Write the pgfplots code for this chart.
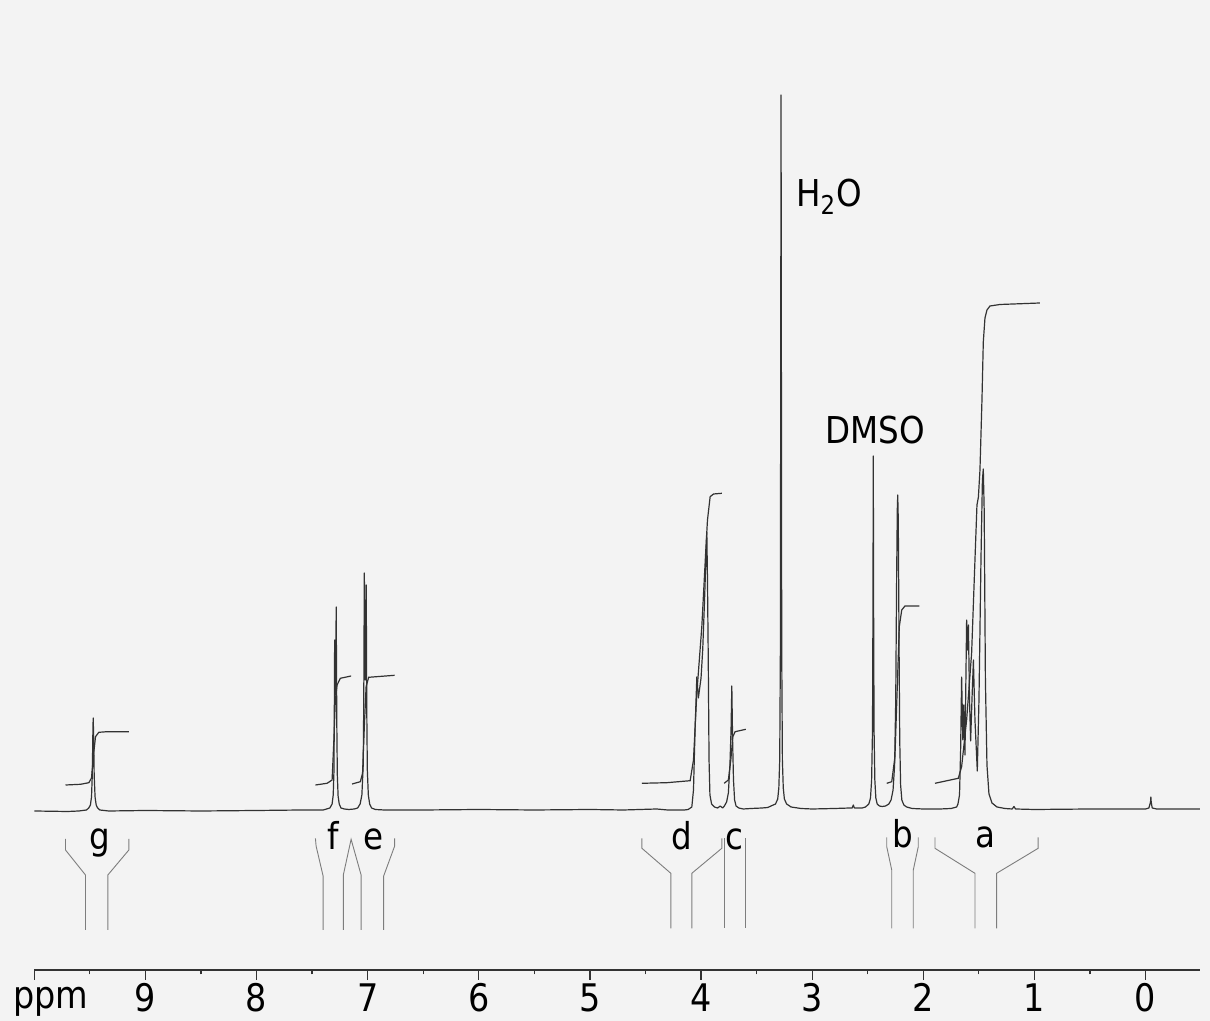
\documentclass[border=0pt]{standalone}
\usepackage{fontspec}
\setmainfont{DejaVu Sans}[FakeStretch=0.88]
\usepackage{pgfplots}
\pgfplotsset{compat=1.18}
\definecolor{paper}{RGB}{243,243,243}
\definecolor{ink}{RGB}{50,50,50}
\definecolor{brk}{RGB}{125,125,125}
\begin{document}
\begin{tikzpicture}
\path[use as bounding box, fill=paper] (-17.15pt,-25.5pt) rectangle (587.85pt,485pt);
\begin{axis}[
  at={(0pt,0pt)}, anchor=south west,
  scale only axis, width=582.85pt, height=485pt,
  x dir=reverse, xmin=-0.49, xmax=10, ymin=-160, ymax=810,
  axis x line*=bottom, axis y line=none,
  xtick={0,1,2,3,4,5,6,7,8,9,10},
  xticklabels={0,1,2,3,4,5,6,7,8,9,{}},
  minor xtick={0.5,1.5,2.5,3.5,4.5,5.5,6.5,7.5,8.5,9.5},
  tick align=outside,
  major tick length=5pt, minor tick length=2.2pt,
  tick style={ink, line width=0.6pt},
  axis line style={ink, line width=0.6pt},
  xticklabel style={anchor=base, inner sep=0pt, yshift=-16pt, font=\fontsize{19}{22}\selectfont, text=black},
  /pgf/number format/assume math mode=true,
  clip=false,
]
% spectrum
\addplot[ink, line width=0.6pt, line join=round] coordinates {
(10.0,-1) (9.70,-1.5) (9.60,-1) (9.53,0) (9.51,2) (9.495,5) (9.485,13) (9.478,35) (9.473,75) (9.470,92) (9.466,75) (9.461,35) (9.453,13) (9.443,5) (9.43,2) (9.41,0) (9.33,-1) (9.0,-0.5) (8.5,-1) (8.0,-0.5) (7.60,0) (7.40,0)
(7.34,2) (7.32,6) (7.310,15) (7.303,40) (7.300,100) (7.297,170) (7.291,115) (7.287,150) (7.283,203) (7.278,90) (7.273,35) (7.266,14) (7.256,6) (7.24,2) (7.21,1) (7.17,0.5)
(7.12,1) (7.09,2) (7.068,6) (7.052,15) (7.040,45) (7.035,110) (7.030,237) (7.022,130) (7.017,170) (7.013,225) (7.008,100) (7.003,40) (6.994,15) (6.982,6) (6.965,2) (6.93,0.5) (6.85,0)
(6.5,0) (6.0,0.5) (5.5,0) (5.0,0.5) (4.7,0) (4.4,1) (4.3,0) (4.15,0)
(4.116,0.5) (4.083,3) (4.068,20) (4.053,83) (4.038,133) (4.024,112) (4.000,132) (3.985,160) (3.970,205) (3.955,255) (3.948,278) (3.942,230) (3.935,150) (3.928,50) (3.920,15) (3.905,6) (3.880,3) (3.850,2) (3.828,4) (3.805,2) (3.790,4) (3.770,8) (3.754,17) (3.740,45) (3.730,80) (3.723,124) (3.716,70) (3.708,30) (3.698,10) (3.685,4) (3.66,2) (3.62,1) (3.55,1.5) (3.45,2) (3.40,2.5)
(3.37,4) (3.33,6) (3.31,11) (3.300,22) (3.292,50) (3.286,160) (3.283,450) (3.280,715) (3.277,450) (3.274,160) (3.268,50) (3.260,22) (3.250,11) (3.23,6) (3.19,3) (3.10,1.5) (3.0,1) (2.8,1.5) (2.66,2) (2.64,2) (2.63,5) (2.62,2) (2.55,2)
(2.52,3) (2.49,6) (2.475,12) (2.465,30) (2.457,80) (2.453,200) (2.450,354) (2.447,200) (2.443,80) (2.436,30) (2.427,12) (2.415,6) (2.395,4) (2.37,3.5) (2.34,4)
(2.31,6) (2.290,10) (2.272,20) (2.258,45) (2.248,110) (2.240,230) (2.234,300) (2.230,315) (2.225,290) (2.219,180) (2.212,70) (2.204,25) (2.193,10) (2.175,5) (2.15,3) (2.10,1.5) (2.0,1) (1.85,1) (1.75,1.5) (1.70,3)
(1.688,6) (1.674,15) (1.664,60) (1.655,133) (1.644,70) (1.636,105) (1.625,55) (1.610,190) (1.602,160) (1.594,185) (1.584,110) (1.574,69) (1.562,110) (1.549,150) (1.535,90) (1.514,39) (1.499,110) (1.481,250) (1.468,330) (1.460,341) (1.452,300) (1.441,130) (1.427,45) (1.409,16) (1.382,7) (1.337,3) (1.265,1.5)
(1.20,1) (1.184,3.5) (1.17,1) (1.0,0.5) (0.5,1) (0.1,1) (0.0,1) (-0.03,2) (-0.045,8) (-0.048,13) (-0.051,8) (-0.06,2) (-0.1,1) (-0.3,1) (-0.49,1)
};
% integrals
\addplot[ink, line width=0.6pt] coordinates {(9.719,25) (9.584,25.7) (9.509,27.3) (9.485,32) (9.467,55) (9.449,73.3) (9.419,77.7) (9.344,78.3) (9.149,78.3)};
\addplot[ink, line width=0.6pt] coordinates {(7.470,25) (7.365,26.7) (7.320,30) (7.304,70) (7.291,110) (7.275,125) (7.246,131.7) (7.149,134)};
\addplot[ink, line width=0.6pt] coordinates {(7.140,26) (7.066,28.3) (7.046,36.7) (7.030,83.3) (7.014,123.3) (6.991,132.7) (6.757,134.7)};
\addplot[ink, line width=0.6pt] coordinates {(4.532,26.7) (4.308,27.3) (4.098,29.3) (4.068,50) (4.038,116.7) (3.993,183.3) (3.954,266.7) (3.942,290) (3.918,313.3) (3.888,316) (3.813,316.7)};
\addplot[ink, line width=0.6pt] coordinates {(3.792,26.7) (3.754,30) (3.732,50) (3.714,73.3) (3.693,78.3) (3.597,80.7)};
\addplot[ink, line width=0.6pt] coordinates {(2.329,26.7) (2.284,28.3) (2.255,53.3) (2.234,123.3) (2.216,183.3) (2.194,200) (2.165,204) (2.036,204)};
\addplot[ink, line width=0.6pt] coordinates {(1.895,26.7) (1.685,31.7) (1.655,43.3) (1.610,90) (1.565,157) (1.535,250) (1.517,305) (1.504,313) (1.490,340) (1.472,410) (1.460,468) (1.445,492) (1.427,500) (1.400,504) (1.310,505.5) (0.950,507)};
% integral brackets
\addplot[brk, line width=0.45pt] coordinates {(9.719,-29) (9.719,-40) (9.539,-65) (9.539,-120)};
\addplot[brk, line width=0.45pt] coordinates {(9.149,-29) (9.149,-40) (9.338,-65) (9.338,-120)};
\addplot[brk, line width=0.45pt] coordinates {(7.470,-28.3) (7.464,-36) (7.401,-66) (7.401,-120)};
\addplot[brk, line width=0.45pt] coordinates {(7.219,-120) (7.219,-65) (7.149,-29.3) (7.059,-65) (7.059,-120)};
\addplot[brk, line width=0.45pt] coordinates {(6.757,-28.3) (6.757,-36) (6.856,-66) (6.856,-120)};
\addplot[brk, line width=0.45pt] coordinates {(4.532,-28.3) (4.532,-38.3) (4.272,-63.3) (4.272,-118.3)};
\addplot[brk, line width=0.45pt] coordinates {(3.813,-28.3) (3.813,-38.3) (4.083,-63.3) (4.083,-118.3)};
\addplot[brk, line width=0.45pt] coordinates {(3.792,-28.3) (3.792,-118.3)};
\addplot[brk, line width=0.45pt] coordinates {(3.603,-28.3) (3.603,-118.3)};
\addplot[brk, line width=0.45pt] coordinates {(2.329,-27.3) (2.329,-36.7) (2.284,-60) (2.284,-118.3)};
\addplot[brk, line width=0.45pt] coordinates {(2.045,-27.3) (2.045,-36.7) (2.090,-60) (2.090,-118.3)};
\addplot[brk, line width=0.45pt] coordinates {(1.895,-27.3) (1.895,-38.3) (1.535,-63.3) (1.535,-118.3)};
\addplot[brk, line width=0.45pt] coordinates {(0.966,-27.3) (0.966,-38.3) (1.340,-63.3) (1.340,-118.3)};
% labels
\begin{scope}[every node/.style={anchor=base, inner sep=0pt, font=\fontsize{18.5}{22}\selectfont}]
\node at (axis cs:9.413,-40) {g};
\node at (axis cs:7.313,-40) {f};
\node at (axis cs:6.949,-40) {e};
\node at (axis cs:4.170,-40) {d};
\node at (axis cs:3.702,-40) {c};
\node at (axis cs:2.183,-38) {b};
\node at (axis cs:1.436,-38) {a};
\node at (axis cs:2.848,603.3) {H\textsubscript{2}O};
\node at (axis cs:2.434,366.7) {DMSO};
\node[font=\fontsize{19}{22}\selectfont] at (axis cs:9.853,-199) {ppm};
\end{scope}
\end{axis}
\end{tikzpicture}
\end{document}
